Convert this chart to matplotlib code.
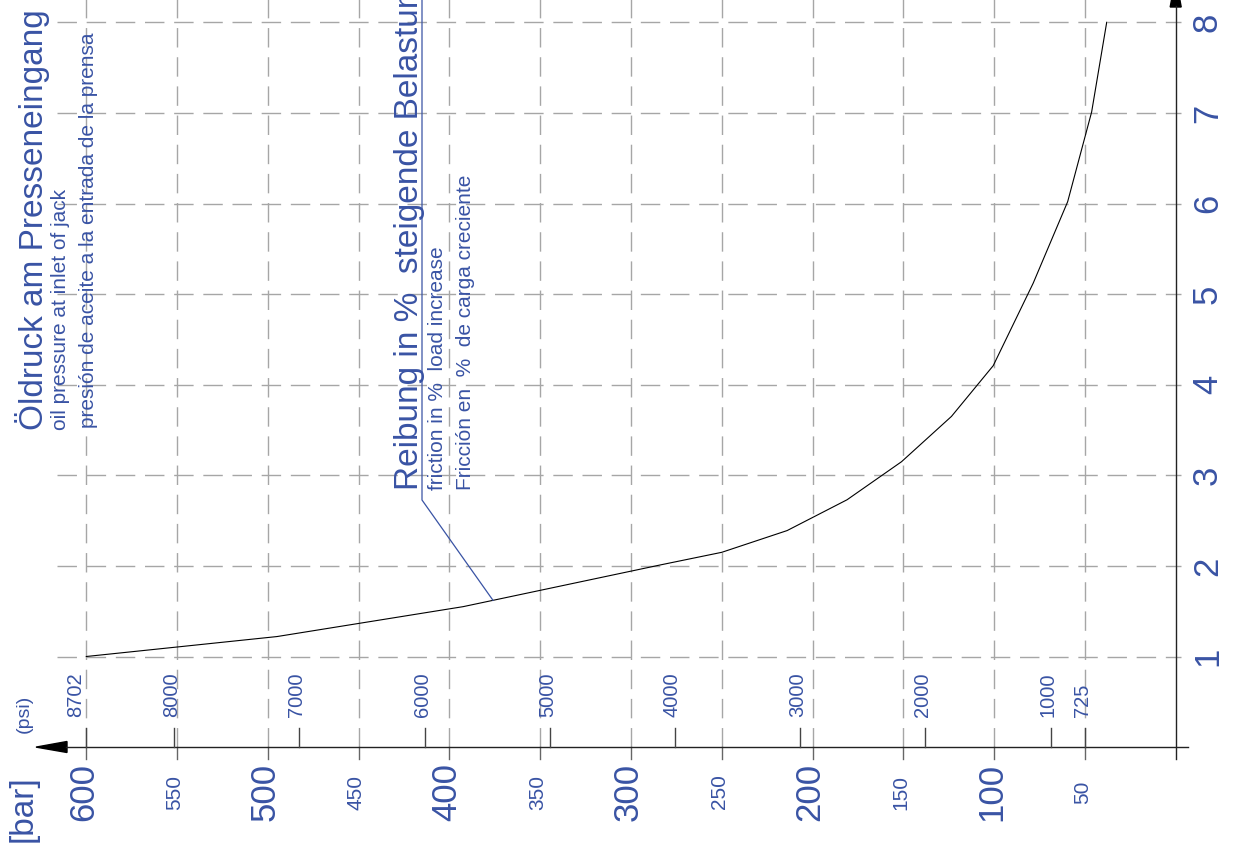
import numpy as np
import matplotlib
matplotlib.use('Agg')
import matplotlib.pyplot as plt
from matplotlib.patches import Polygon

plt.rcParams['font.family'] = ['Liberation Sans', 'DejaVu Sans']

# friction curve: oil pressure [bar] vs. friction [%] at increasing load
pressure_bar = [600, 495, 392.5, 284, 250, 214, 181, 151, 123.5, 100.5, 78.5, 59.5, 46.3, 38]
friction_pct = [1.00, 1.22, 1.55, 2.01, 2.15, 2.39, 2.73, 3.15, 3.65, 4.21, 5.12, 6.02, 7.01, 8.0]

bar_ticks = [600, 550, 500, 450, 400, 350, 300, 250, 200, 150, 100, 50]
psi_ticks = [8702, 8000, 7000, 6000, 5000, 4000, 3000, 2000, 1000, 725]
friction_ticks = [1, 2, 3, 4, 5, 6, 7, 8]
PSI_PER_BAR = 14.5038

BLUE = '#3953a4'
GRID = '#a6a6a6'
AXIS = '#222222'

# page layout in pixels: where 0 bar and 1 % sit, and the scale of each
W, H = 1243, 843
X0, SX = 1175.7, 1.8157
Y1, SY = 656.5, 90.6


def bx(px):
    return (X0 - px) / SX


def fy(py):
    return 1 + (Y1 - py) / SY


fig = plt.figure(figsize=(W / 100, H / 100), dpi=100)
ax = fig.add_axes([0, 0, 1, 1])
ax.set_xlim(bx(0), bx(W))
ax.set_ylim(fy(H), fy(0))
ax.axis('off')

dash = dict(color=GRID, lw=1.0, dashes=(14, 7))
# vertical grid lines (pressure)
for b in bar_ticks:
    ax.plot([b, b], [0, fy(-5)], **dash)
    ax.plot([b, b], [0, fy(759)], color='#666666', lw=1.0)
# horizontal grid lines (friction)
for f in friction_ticks:
    ax.plot([bx(57), bx(1181)], [f, f], **dash)

# axes with arrows
ax.plot([bx(66), bx(1188)], [0, 0], color=AXIS, lw=1.0)
ax.plot([0, 0], [fy(759), fy(6)], color=AXIS, lw=1.0)
ax.add_patch(Polygon([(bx(36), 0), (bx(67), fy(747 - 5.5)), (bx(67), fy(747 + 5.5))],
                     closed=True, color='black', clip_on=False))
ax.add_patch(Polygon([(0, fy(-23)), (bx(X0 - 5.5), fy(7)), (bx(X0 + 5.5), fy(7))],
                     closed=True, color='black', clip_on=False))

# psi ticks above the pressure axis
for p in psi_ticks:
    b = p / PSI_PER_BAR
    ax.plot([b, b], [0, fy(728)], color='#444444', lw=1.0)
    px = X0 - b * SX
    off = 11 if p == 8702 else 2.5
    ax.text(bx(px - off), fy(717), str(p), rotation=90, rotation_mode='anchor',
            ha='left', va='center', fontsize=14.5, color=BLUE)

# bar labels
for b in bar_ticks:
    big = b % 100 == 0
    px = X0 - b * SX
    ax.text(bx(px - 2.5), fy(792), str(b), rotation=90, rotation_mode='anchor',
            ha='center', va='center', fontsize=25 if big else 15, color=BLUE)

# friction labels on the right
for f in friction_ticks:
    ax.text(bx(1207.5), f, str(f), rotation=90, rotation_mode='anchor',
            ha='center', va='center', fontsize=25, color=BLUE)

# the curve
ax.plot(pressure_bar, friction_pct, color='black', lw=0.8)

# leader from the curve to the friction label
lead_bar = 376
lead_f = np.interp(lead_bar, pressure_bar[::-1], friction_pct[::-1])
ax.plot([lead_bar, bx(422), bx(422)], [lead_f, fy(500), fy(-10)], color=BLUE, lw=0.9)

# unit labels
ax.text(bx(24), fy(713.5), '(psi)', rotation=90, rotation_mode='anchor',
        ha='center', va='center', fontsize=14, color=BLUE)
ax.text(bx(32), fy(842), '[bar]', rotation=90, rotation_mode='anchor',
        ha='left', va='baseline', fontsize=24, color=BLUE)

# axis titles
titles = [
    (43, 430, 'Öldruck am Presseneingang', 24),
    (66, 430, 'oil pressure at inlet of jack', 15),
    (94, 428, 'presión de aceite a la entrada de la prensa', 15),
    (418, 490, 'Reibung in %  steigende Belastung', 24),
    (442.7, 490, 'friction in %  load increase', 15),
    (470.7, 490, 'Fricción en  %  de carga creciente', 15),
]
for px, py, s, size in titles:
    ax.text(bx(px), fy(py), s, rotation=90, rotation_mode='anchor',
            ha='left', va='baseline', fontsize=size, color=BLUE)

fig.savefig('out.png', dpi=100)
